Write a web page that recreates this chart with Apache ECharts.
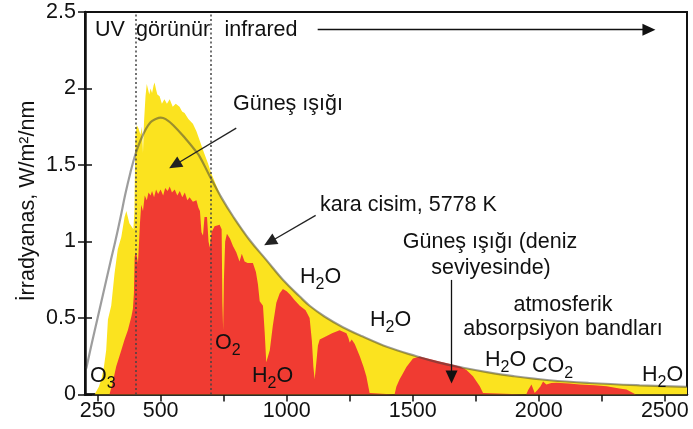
<!DOCTYPE html>
<html>
<head>
<meta charset="utf-8">
<style>
  html, body { margin: 0; padding: 0; background: #fff; }
  #main { width: 693px; height: 429px; }
</style>
<script src="https://cdn.jsdelivr.net/npm/echarts@6/dist/echarts.min.js"></script>
</head>
<body>
<div id="main"></div>
<script>
// güneş ışığı (atmosfer dışı) - dalga boyu nm / irradyans
const sunNm = [238, 255, 265, 275, 284, 291, 304, 317, 330, 344, 357, 364, 370, 376, 384, 392, 396, 400, 405, 412, 420, 426, 430, 434, 440, 445, 450, 455, 460, 466, 472, 476, 481, 487, 496, 505, 515, 525, 536, 548, 560, 575, 585, 595, 610, 628, 642, 655, 672, 688, 700, 740, 787, 853, 919, 985, 1052, 1091, 1150, 1223, 1300, 1400, 1515, 1600, 1700, 1800, 1900, 2043, 2200, 2400, 2588];
const sunVal = [0, 0.05, 0.1, 0.18, 0.29, 0.49, 0.58, 0.79, 0.95, 1.03, 1.16, 1.2, 1.21, 1.12, 1.1, 1.08, 1.2, 1.7, 1.76, 1.74, 1.7, 1.75, 1.58, 1.78, 1.95, 2.03, 2.02, 1.96, 2.0, 1.97, 2.02, 2.04, 2.0, 1.96, 1.95, 1.9, 1.93, 1.9, 1.93, 1.88, 1.9, 1.88, 1.85, 1.84, 1.8, 1.77, 1.72, 1.66, 1.58, 1.51, 1.45, 1.29, 1.165, 1.01, 0.88, 0.75, 0.64, 0.58, 0.51, 0.44, 0.38, 0.31, 0.25, 0.21, 0.175, 0.145, 0.12, 0.093, 0.075, 0.06, 0.05];

// güneş ışığı (deniz seviyesinde)
const seaNm = [297, 310, 324, 344, 357, 370, 384, 390, 394, 397, 402, 406, 410, 414, 418, 423, 430, 437, 445, 452, 460, 466, 474, 482, 490, 500, 510, 518, 528, 536, 545, 556, 566, 576, 586, 596, 606, 615, 628, 642, 650, 656, 662, 668, 674, 684, 690, 695, 702, 714, 734, 742, 745, 748, 751, 756, 763, 775, 787, 800, 813, 822, 833, 845, 866, 878, 886, 893, 906, 913, 919, 926, 933, 945, 959, 972, 985, 1000, 1015, 1030, 1052, 1075, 1091, 1100, 1106, 1111, 1117, 1124, 1131, 1157, 1180, 1210, 1237, 1245, 1250, 1258, 1270, 1290, 1305, 1316, 1329, 1335, 1428, 1435, 1448, 1462, 1475, 1501, 1528, 1560, 1607, 1650, 1687, 1713, 1739, 1766, 1779, 1785, 1950, 1958, 1971, 1984, 1995, 2007, 2017, 2030, 2050, 2070, 2120, 2163, 2220, 2269, 2320, 2348, 2374, 2385, 2588];
const seaVal = [0, 0.08, 0.185, 0.29, 0.36, 0.42, 0.51, 0.56, 0.66, 0.9, 0.93, 0.9, 0.86, 0.98, 1.12, 1.24, 1.2, 1.3, 1.27, 1.32, 1.3, 1.33, 1.29, 1.34, 1.31, 1.34, 1.3, 1.35, 1.33, 1.36, 1.32, 1.34, 1.3, 1.33, 1.29, 1.32, 1.27, 1.29, 1.26, 1.27, 1.22, 1.2, 1.06, 1.04, 1.16, 1.16, 1.0, 0.96, 1.06, 1.1, 1.11, 1.08, 0.6, 0.42, 0.75, 1.0, 1.05, 1.02, 0.97, 0.93, 0.87, 0.92, 0.87, 0.86, 0.86, 0.8, 0.72, 0.61, 0.58, 0.4, 0.21, 0.22, 0.29, 0.45, 0.6, 0.66, 0.69, 0.675, 0.65, 0.62, 0.58, 0.55, 0.5, 0.35, 0.18, 0.1, 0.2, 0.32, 0.36, 0.38, 0.4, 0.42, 0.4, 0.37, 0.34, 0.36, 0.33, 0.25, 0.18, 0.12, 0.01, 0, 0, 0.05, 0.1, 0.14, 0.18, 0.235, 0.248, 0.235, 0.215, 0.2, 0.183, 0.16, 0.12, 0.054, 0.01, 0, 0, 0.03, 0.065, 0.01, 0.03, 0.054, 0.085, 0.065, 0.075, 0.076, 0.072, 0.065, 0.06, 0.054, 0.04, 0.033, 0.01, 0, 0];

// kara cisim, 5778 K
const bbNm = [205, 225, 250, 275, 300, 320, 340, 360, 380, 400, 420, 440, 460, 480, 500, 520, 550, 600, 635, 655, 694, 740, 787, 853, 919, 985, 1052, 1091, 1150, 1223, 1300, 1400, 1515, 1600, 1700, 1800, 1900, 2043, 2200, 2400, 2588];
const bbVal = [0.17, 0.32, 0.5, 0.68, 0.86, 1.0, 1.15, 1.31, 1.45, 1.57, 1.66, 1.73, 1.78, 1.80, 1.81, 1.8, 1.76, 1.67, 1.6, 1.555, 1.43, 1.29, 1.165, 1.01, 0.88, 0.75, 0.64, 0.58, 0.51, 0.44, 0.38, 0.31, 0.25, 0.21, 0.175, 0.145, 0.12, 0.093, 0.075, 0.06, 0.05];

const xLabels = [250, 500, 1000, 1500, 2000, 2500];
const xTicks = [250, 500, 750, 1000, 1250, 1500, 1750, 2000, 2250, 2500];
const bandEdges = [400, 700]; // UV / görünür / infrared

const pairs = (xs, ys) => xs.map((x, i) => [x, ys[i]]);

const FONT = '"Liberation Sans", Arial, sans-serif';
const FS = 21.5;
const INK = '#111';

const chart = echarts.init(document.getElementById('main'));

// ok uçları
function arrow(from, to, color) {
  return [
    { coord: from, symbol: 'none' },
    { coord: to, symbol: 'triangle', symbolSize: [12, 13], lineStyle: { color: color } }
  ];
}

// formül etiketleri (alt indisli)
function chem(base, sub, tail, x, y) {
  let text = '{a|' + base + '}{s|' + sub + '}';
  if (tail) text += '{a|' + tail + '}';
  return {
    type: 'text',
    left: x,
    top: y,
    z: 100,
    silent: true,
    style: {
      text: text,
      rich: {
        a: { fontSize: FS, fontFamily: FONT, fill: INK, lineHeight: 22, verticalAlign: 'top' },
        s: { fontSize: 16, fontFamily: FONT, fill: INK, lineHeight: 16, padding: [11, 0, 0, 0], verticalAlign: 'top' }
      }
    }
  };
}

function note(text, x, y, align, rotation) {
  return {
    type: 'text',
    x: x,
    y: y,
    z: 100,
    rotation: rotation || 0,
    silent: true,
    style: {
      text: text,
      fontSize: FS,
      fontFamily: FONT,
      fill: INK,
      textAlign: align || 'center',
      textVerticalAlign: 'middle'
    }
  };
}

const option = {
  animation: false,
  grid: {
    left: 85, right: 6, top: 12, bottom: 34.5,
    show: true, borderColor: INK, borderWidth: 2
  },
  xAxis: {
    type: 'value',
    min: 200,
    max: 2588,
    axisLine: { lineStyle: { color: INK, width: 2.5 } },
    axisTick: { length: 7, lineStyle: { color: INK, width: 1.5 }, customValues: xTicks },
    axisLabel: {
      color: INK, fontSize: FS, fontFamily: FONT, margin: 6,
      customValues: xLabels,
      formatter: v => String(v)
    },
    splitLine: { show: false }
  },
  yAxis: [
    {
      type: 'value',
      min: 0,
      max: 2.5,
      interval: 0.5,
      axisLine: { show: true, lineStyle: { color: INK, width: 2.5 } },
      axisTick: { show: true, length: 7, lineStyle: { color: INK, width: 1.5 } },
      axisLabel: { color: INK, fontSize: FS, fontFamily: FONT, margin: 9 },
      splitLine: { show: false }
    },
    {
      type: 'value',
      min: 0,
      max: 2.5,
      interval: 0.5,
      position: 'left',
      axisLine: { show: false },
      axisTick: { show: true, inside: true, length: 7, lineStyle: { color: INK, width: 1.5 } },
      axisLabel: { show: false },
      splitLine: { show: false }
    }
  ],
  series: [
    {
      name: 'Güneş ışığı',
      type: 'line',
      data: pairs(sunNm, sunVal),
      symbol: 'none',
      lineStyle: { width: 0 },
      areaStyle: { color: '#FBE31F', opacity: 1 },
      silent: true,
      z: 1
    },
    {
      name: 'Güneş ışığı (deniz seviyesinde)',
      type: 'line',
      data: pairs(seaNm, seaVal),
      symbol: 'none',
      lineStyle: { width: 0 },
      areaStyle: { color: '#F03B32', opacity: 1 },
      silent: true,
      z: 2,
      markLine: {
        silent: true,
        symbol: 'none',
        label: { show: false },
        lineStyle: { color: '#444', width: 1.5, type: [2, 2.5] },
        data: bandEdges.map(v => ({ xAxis: v }))
      }
    },
    {
      name: 'kara cisim, 5778 K',
      type: 'line',
      data: pairs(bbNm, bbVal),
      symbol: 'none',
      smooth: 0.4,
      lineStyle: { color: 'rgba(60,60,60,0.5)', width: 2.2 },
      silent: true,
      z: 3,
      markLine: {
        silent: true,
        label: { show: false },
        lineStyle: { color: '#333', width: 1.3, type: 'solid' },
        data: [
          arrow([1123, 2.384], [2437, 2.384], '#111'),
          arrow([800, 1.741], [556, 1.5], '#222'),
          arrow([1115, 1.171], [933, 0.997], '#222'),
          arrow([1654, 0.749], [1654, 0.114], '#111')
        ]
      }
    }
  ],
  graphic: [
    note('İrradyanas, W/m²/nm', 28, 201, 'center', Math.PI / 2),
    note('UV', 110, 30),
    note('görünür', 173, 30),
    note('infrared', 261, 30),
    note('Güneş ışığı', 288, 104),
    note('kara cisim, 5778 K', 320, 205, 'left'),
    note('Güneş ışığı (deniz', 490, 242),
    note('seviyesinde)', 491, 268),
    note('atmosferik', 563, 305),
    note('absorpsiyon bandları', 563, 329),
    chem('H', '2', 'O', 300, 266),
    chem('H', '2', 'O', 370, 309),
    chem('H', '2', 'O', 252, 365),
    chem('H', '2', 'O', 485, 349),
    chem('H', '2', 'O', 642, 364),
    chem('O', '2', '', 215, 332),
    chem('O', '3', '', 90, 365),
    chem('CO', '2', '', 532, 355)
  ]
};

chart.setOption(option);
</script>
</body>
</html>
